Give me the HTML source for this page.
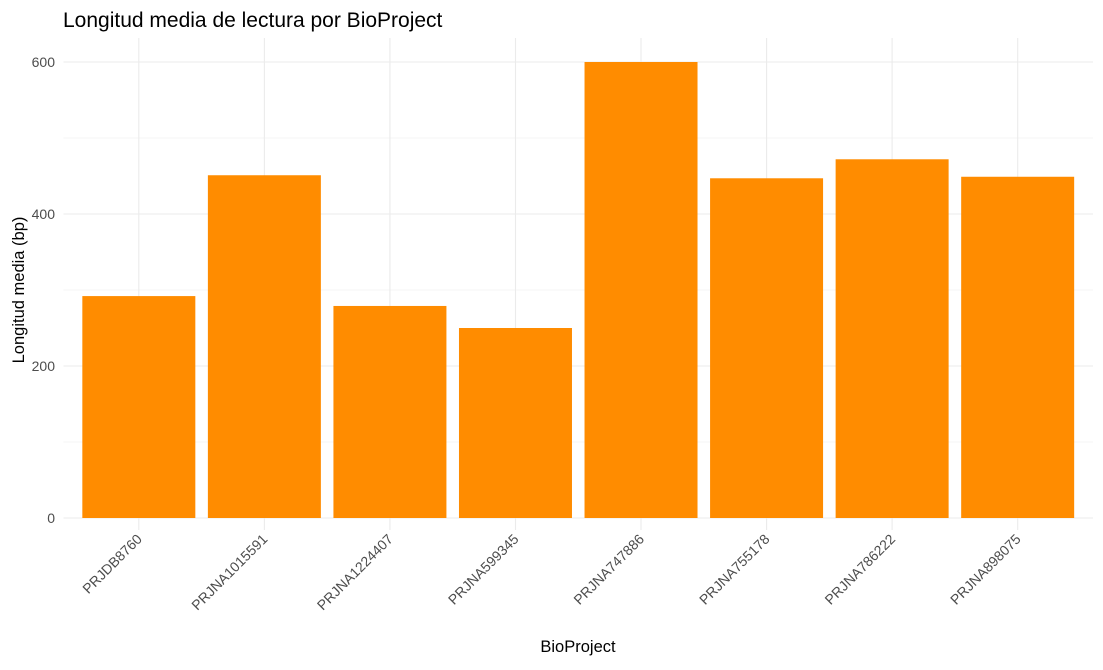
<!DOCTYPE html>
<html><head><meta charset="utf-8"><style>
body{margin:0;background:#fff;font-family:"Liberation Sans",Arial,sans-serif;}
</style></head><body>
<svg id="chart" width="1103" height="665" xmlns="http://www.w3.org/2000/svg">
<rect width="1103" height="665" fill="#fff"/>
<g id="grid"></g><g id="bars"></g><g id="ticks"></g>
<text x="63" y="27" font-size="21" fill="#000">Longitud media de lectura por BioProject</text>
<text transform="translate(24,290) rotate(-90)" text-anchor="middle" font-size="16.5" fill="#000">Longitud media (bp)</text>
<text x="578" y="652" text-anchor="middle" font-size="16.5" fill="#000">BioProject</text>
</svg>
<script>
const categories=["PRJDB8760","PRJNA1015591","PRJNA1224407","PRJNA599345","PRJNA747886","PRJNA755178","PRJNA786222","PRJNA898075"];
const values=[292,451,279,250,600,447,472,449];
const yTicks=[0,200,400,600];
const yMinor=[100,300,500];
const ns="http://www.w3.org/2000/svg";
const pL=63.5,pR=1093,pT=38,pB=530;
const step=(pR-pL)/(categories.length-1+1.2);
function xs(i){return pL+(0.6+i)*step;}
function ys(v){return 518-v*(456/600);}
function mk(t,a,p){const e=document.createElementNS(ns,t);for(const k in a)e.setAttribute(k,a[k]);p.appendChild(e);return e;}
const g=document.getElementById('grid'),b=document.getElementById('bars'),tk=document.getElementById('ticks');
yMinor.forEach(v=>{const l=mk('line',{x1:pL,x2:pR,y1:ys(v),y2:ys(v),stroke:'#f2f2f2','stroke-width':0.8},g);

});
yTicks.forEach(v=>{const l=mk('line',{x1:pL,x2:pR,y1:ys(v),y2:ys(v),stroke:'#ebebeb','stroke-width':1.1},g);


const t=mk('text',{x:55,y:ys(v)+5,'text-anchor':'end','font-size':14,fill:'#4d4d4d'},tk);t.textContent=v;

});
categories.forEach((c,i)=>{const l=mk('line',{x1:xs(i),x2:xs(i),y1:pT,y2:pB,stroke:'#ebebeb','stroke-width':1.1},g);


const w=step*0.9;
const r=mk('rect',{x:xs(i)-w/2,y:ys(values[i]),width:w,height:ys(0)-ys(values[i]),fill:'#ff8c00'},b);


const t=mk('text',{transform:`translate(${xs(i)+4},540) rotate(-45)`,'text-anchor':'end','font-size':14,fill:'#4d4d4d'},tk);t.textContent=c;

});
</script>
</body></html>
